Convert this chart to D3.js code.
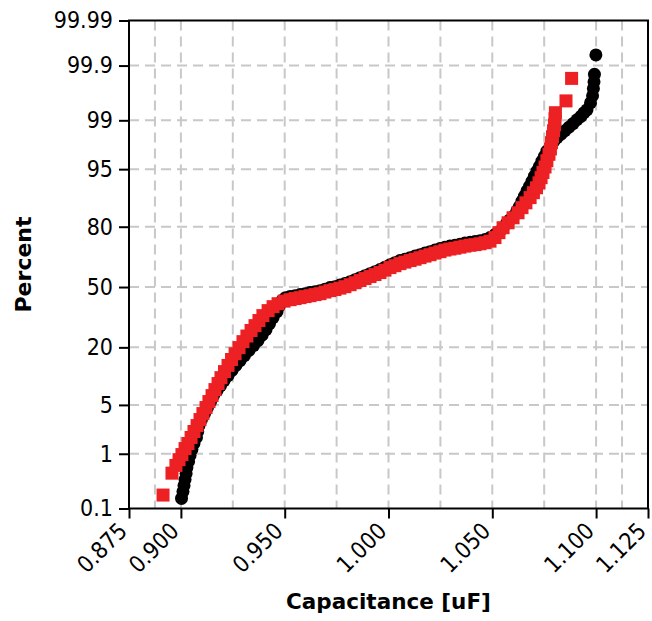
<!DOCTYPE html>
<html>
<head>
<meta charset="utf-8">
<title>Capacitance probability plot</title>
<script src="https://cdn.jsdelivr.net/npm/d3@7"></script>
<style>
  body { margin: 0; background: #fff; }
  .tick text { font-family: "DejaVu Sans Condensed", "DejaVu Sans", sans-serif; font-stretch: condensed; font-size: 23px; fill: #000; }
  .axis-title { font-family: "DejaVu Sans", sans-serif; font-weight: bold; fill: #000; }
  .grid line { stroke: #c8c8c8; stroke-width: 2; stroke-dasharray: 10,6; }
</style>
</head>
<body>
<div id="chart"></div>
<script>
// axis ticks
var capTicks = [0.875, 0.900, 0.950, 1.000, 1.050, 1.100, 1.125];
var capGrid = [0.8875, 0.900, 0.925, 0.950, 0.975, 1.000, 1.025, 1.050, 1.075, 1.100, 1.1125];
var pctTicks = [0.1, 1, 5, 20, 50, 80, 95, 99, 99.9, 99.99];
var pctGrid = [1, 5, 20, 50, 80, 95, 99, 99.9];

// black series (circles): capacitance and plotted percent
var blackCap = [
  0.9003, 0.9010, 0.9015, 0.9020, 0.9025, 0.9029, 0.9037, 0.9044, 0.9053, 0.9063,
  0.9075, 0.9081, 0.9087, 0.9099, 0.9114, 0.9128, 0.9143, 0.9157, 0.9174, 0.9191,
  0.9208, 0.9227, 0.9246, 0.9265, 0.9285, 0.9306, 0.9328, 0.9350, 0.9371, 0.9391,
  0.9410, 0.9427, 0.9444, 0.9463, 0.9475, 0.9487, 0.9504, 0.9526,
  0.9550, 0.9574, 0.9598, 0.9622, 0.9646, 0.9670, 0.9694, 0.9718, 0.9742, 0.9766,
  0.9790, 0.9815, 0.9839, 0.9863, 0.9887, 0.9911, 0.9935, 0.9959, 0.9983, 1.0007,
  1.0031, 1.0055, 1.0079, 1.0104, 1.0128, 1.0152, 1.0176, 1.0200, 1.0224, 1.0248,
  1.0272, 1.0296, 1.0320, 1.0344, 1.0368, 1.0393, 1.0417, 1.0441, 1.0465, 1.0489,
  1.0513, 1.0537, 1.0552, 1.0568, 1.0585, 1.0605, 1.0619, 1.0631, 1.0643, 1.0655,
  1.0667, 1.0679, 1.0691, 1.0703, 1.0715, 1.0727, 1.0739, 1.0751, 1.0763, 1.0778,
  1.0795, 1.0812, 1.0831, 1.0850, 1.0869, 1.0889, 1.0908, 1.0927, 1.0942, 1.0956,
  1.0973, 1.0983, 1.0987, 1.0990, 1.0992, 1.0999];
var blackPct = [
  0.159, 0.216, 0.280, 0.362, 0.462, 0.588, 0.745, 0.936, 1.17, 1.45,
  1.79, 2.19, 2.66, 3.22, 3.87, 4.63, 5.50, 6.49, 7.42, 8.46,
  9.59, 10.8, 12.2, 13.7, 15.2, 16.9, 18.8, 20.7, 22.7, 25.1,
  27.6, 30.5, 33.5, 36.6, 39.8, 42.5, 44.1, 44.7,
  45.2, 45.8, 46.3, 46.9, 47.4, 48.0, 48.8, 49.7, 50.2, 51.1,
  51.9, 53.0, 54.1, 55.2, 56.3, 57.4, 58.5, 59.6, 60.9, 62.2,
  63.3, 64.4, 65.1, 65.9, 66.7, 67.4, 68.2, 68.9, 69.7, 70.4,
  71.1, 71.6, 72.0, 72.5, 73.0, 73.4, 73.7, 74.1, 74.6, 75.5,
  76.8, 78.2, 79.6, 81.2, 82.6, 84.0, 85.7, 87.0, 88.5, 89.8,
  91.0, 92.0, 93.0, 93.9, 94.7, 95.4, 96.05, 96.6, 97.1, 97.5,
  97.87, 98.14, 98.35, 98.54, 98.71, 98.87, 99.02, 99.14, 99.25, 99.33,
  99.49, 99.62, 99.72, 99.79, 99.85, 99.94];

// red series (squares)
var redCap = [
  0.8914, 0.8957, 0.8976, 0.8991, 0.9005, 0.9020, 0.9034, 0.9049, 0.9063, 0.9078,
  0.9092, 0.9106, 0.9121, 0.9135, 0.9150, 0.9164, 0.9179, 0.9193, 0.9210, 0.9227,
  0.9244, 0.9261, 0.9280, 0.9299, 0.9318, 0.9338, 0.9357, 0.9376, 0.9395, 0.9420,
  0.9444, 0.9468, 0.9497,
  0.9526, 0.9550, 0.9574, 0.9598, 0.9622, 0.9646, 0.9670, 0.9694, 0.9718, 0.9742,
  0.9766, 0.9790, 0.9815, 0.9839, 0.9863, 0.9887, 0.9911, 0.9935, 0.9959, 0.9983,
  1.0007, 1.0031, 1.0055, 1.0079, 1.0104, 1.0128, 1.0152, 1.0176, 1.0200, 1.0224,
  1.0248, 1.0272, 1.0296, 1.0320, 1.0344, 1.0368, 1.0393, 1.0417, 1.0441, 1.0465,
  1.0489,
  1.0513, 1.0532, 1.0552, 1.0576, 1.0600, 1.0624, 1.0643, 1.0662, 1.0682, 1.0698,
  1.0713, 1.0725, 1.0735, 1.0744, 1.0754, 1.0763, 1.0773, 1.0780, 1.0785, 1.0790,
  1.0795, 1.0800, 1.0802, 1.0804, 1.0855, 1.0882];
var redPct = [
  0.185, 0.47, 0.64, 0.80, 0.97, 1.21, 1.45, 1.79, 2.19, 2.66,
  3.22, 3.87, 4.63, 5.50, 6.49, 7.62, 8.90, 10.3, 11.9, 13.7,
  15.6, 17.6, 19.9, 22.3, 24.7, 27.2, 29.5, 32.0, 34.5, 37.1,
  39.2, 40.8, 42.2,
  43.0, 43.6, 44.1, 44.7, 45.2, 45.8, 46.3, 47.2, 48.0, 48.6,
  49.4, 50.2, 51.3, 52.4, 53.6, 54.7, 55.8, 56.9, 58.0, 59.3,
  60.7, 61.7, 62.8, 63.6, 64.4, 65.1, 65.9, 66.7, 67.4, 68.2,
  68.9, 69.7, 70.2, 70.6, 71.1, 71.6, 72.0, 72.3, 72.7, 73.2,
  73.9,
  75.5, 77.6, 79.6, 81.5, 83.3, 85.0, 86.6, 88.0, 89.4, 90.6,
  91.7, 92.7, 93.65, 94.5, 95.3, 96.1, 96.8, 97.3, 97.8, 98.2,
  98.54, 98.82, 99.06, 99.25, 99.53, 99.82];

var width = 652, height = 621;
var margin = { top: 20.5, right: 4, bottom: 112.5, left: 129 };
var w = width - margin.left - margin.right;
var h = height - margin.top - margin.bottom;

// inverse normal cdf (Acklam) for the probability axis
function probit(p) {
  var a = [-3.969683028665376e+01, 2.209460984245205e+02, -2.759285104469687e+02, 1.383577518672690e+02, -3.066479806614716e+01, 2.506628277459239e+00];
  var b = [-5.447609879822406e+01, 1.615858368580409e+02, -1.556989798598866e+02, 6.680131188771972e+01, -1.328068155288572e+01];
  var c = [-7.784894002430293e-03, -3.223964580411365e-01, -2.400758277161838e+00, -2.549732539343734e+00, 4.374664141464968e+00, 2.938163982698783e+00];
  var d = [7.784695709041462e-03, 3.224671290700398e-01, 2.445134137142996e+00, 3.754408661907416e+00];
  var plow = 0.02425, q, r;
  if (p < plow) {
    q = Math.sqrt(-2 * Math.log(p));
    return (((((c[0]*q+c[1])*q+c[2])*q+c[3])*q+c[4])*q+c[5]) / ((((d[0]*q+d[1])*q+d[2])*q+d[3])*q+1);
  }
  if (p > 1 - plow) {
    q = Math.sqrt(-2 * Math.log(1 - p));
    return -(((((c[0]*q+c[1])*q+c[2])*q+c[3])*q+c[4])*q+c[5]) / ((((d[0]*q+d[1])*q+d[2])*q+d[3])*q+1);
  }
  q = p - 0.5; r = q * q;
  return (((((a[0]*r+a[1])*r+a[2])*r+a[3])*r+a[4])*r+a[5])*q / (((((b[0]*r+b[1])*r+b[2])*r+b[3])*r+b[4])*r+1);
}

var x = d3.scaleLinear().domain([0.875, 1.125]).range([0, w]);
var z = d3.scaleLinear().domain([probit(0.001), probit(0.9999)]).range([h, 0]);
var y = function (pct) { return z(probit(pct / 100)); };

var svg = d3.select("#chart").append("svg")
  .attr("width", width).attr("height", height)
  .style("background", "#fff");
var g = svg.append("g").attr("transform", "translate(" + margin.left + "," + margin.top + ")");

// grid
g.append("g").attr("class", "grid").selectAll("line")
  .data(capGrid).enter().append("line")
  .attr("x1", function (d) { return x(d); }).attr("x2", function (d) { return x(d); })
  .attr("y1", 0).attr("y2", h);
g.append("g").attr("class", "grid").selectAll("line")
  .data(pctGrid).enter().append("line")
  .attr("y1", function (d) { return y(d); }).attr("y2", function (d) { return y(d); })
  .attr("x1", 0).attr("x2", w);

// points: black circles under red squares
var blackData = blackCap.map(function (v, i) { return [v, blackPct[i]]; });
var redData = redCap.map(function (v, i) { return [v, redPct[i]]; });

g.append("g").selectAll("circle")
  .data(blackData).enter().append("circle")
  .attr("cx", function (d) { return x(d[0]); })
  .attr("cy", function (d) { return y(d[1]); })
  .attr("r", 6.5)
  .attr("fill", "#000");

var sq = 13;
g.append("g").selectAll("rect")
  .data(redData).enter().append("rect")
  .attr("x", function (d) { return x(d[0]) - sq / 2; })
  .attr("y", function (d) { return y(d[1]) - sq / 2; })
  .attr("width", sq).attr("height", sq)
  .attr("fill", "#ed2024");

// frame
g.append("rect").attr("width", w).attr("height", h)
  .attr("fill", "none").attr("stroke", "#000").attr("stroke-width", 2);

// axes
var yAxis = g.append("g")
  .call(d3.axisLeft(z).tickValues(pctTicks.map(function (p) { return probit(p / 100); }))
    .tickFormat(function (d, i) { return String(pctTicks[i]); })
    .tickSize(10).tickPadding(6));
var xAxis = g.append("g").attr("transform", "translate(0," + h + ")")
  .call(d3.axisBottom(x).tickValues(capTicks).tickFormat(d3.format(".3f"))
    .tickSize(10).tickPadding(6));
[xAxis, yAxis].forEach(function (a) {
  a.select(".domain").remove();
  a.selectAll(".tick line").attr("stroke", "#000").attr("stroke-width", 2);
});
xAxis.selectAll(".tick text")
  .attr("x", 0).attr("y", 0).attr("dy", 0)
  .attr("transform", "translate(-1,24) rotate(-45)")
  .style("text-anchor", "end");

// titles
svg.append("text").attr("class", "axis-title")
  .attr("x", margin.left + w / 2).attr("y", 609)
  .attr("text-anchor", "middle").style("font-size", "21.5px")
  .text("Capacitance [uF]");
svg.append("text").attr("class", "axis-title")
  .attr("transform", "translate(31," + (margin.top + h / 2) + ") rotate(-90)")
  .attr("text-anchor", "middle").style("font-size", "22px")
  .text("Percent");
</script>
</body>
</html>
